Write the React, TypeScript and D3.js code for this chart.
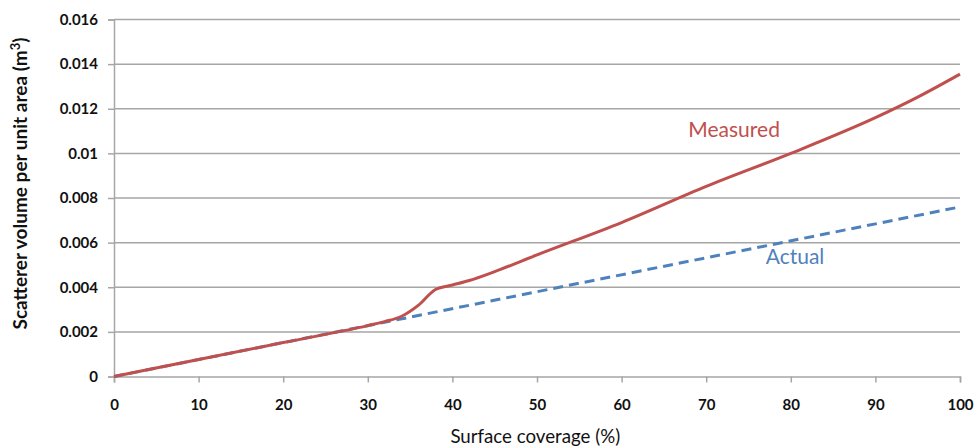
import { useRef, useEffect } from 'react';
import * as d3 from 'd3';

const W = 975;
const H = 448;
const margin = { left: 114, right: 15, top: 19.5, bottom: 71.5 };

const xTicks = [0, 10, 20, 30, 40, 50, 60, 70, 80, 90, 100];
const yTicks = [0, 0.002, 0.004, 0.006, 0.008, 0.01, 0.012, 0.014, 0.016];
const yTickLabels = ['0', '0.002', '0.004', '0.006', '0.008', '0.01', '0.012', '0.014', '0.016'];

// measured curve (surface coverage %, volume)
const measuredX = [0, 10, 20, 30, 32, 34, 36, 38, 40, 42, 45, 50, 60, 70, 80, 90, 95, 100];
const measuredY = [0, 0.00076, 0.00152, 0.00228, 0.00246, 0.0027, 0.0032, 0.0039, 0.0041, 0.0043, 0.0047, 0.00545, 0.0069, 0.00852, 0.01, 0.0116, 0.01252, 0.01355];

// actual (straight line)
const actualX = [0, 100];
const actualY = [0, 0.0076];

const RED = '#c0504d';
const BLUE = '#4f81bd';
const FONT = 'Lato, "Open Sans", sans-serif';

function App() {
  const svgRef = useRef<SVGSVGElement>(null);

  useEffect(() => {
    const svg = d3.select(svgRef.current);
    svg.selectAll('*').remove();

    const x = d3.scaleLinear().domain([0, 100]).range([margin.left, W - margin.right]);
    const y = d3.scaleLinear().domain([0, 0.016]).range([H - margin.bottom, margin.top]);

    // horizontal gridlines
    svg.append('g')
      .selectAll('line')
      .data(yTicks.slice(1))
      .join('line')
      .attr('x1', x(0))
      .attr('x2', x(100))
      .attr('y1', d => y(d))
      .attr('y2', d => y(d))
      .attr('stroke', '#a6a6a6')
      .attr('stroke-width', 1.5);

    // y axis
    const yAxis = svg.append('g')
      .attr('transform', `translate(${x(0)},0)`)
      .call(d3.axisLeft(y).tickValues(yTicks).tickSize(6).tickPadding(10).tickFormat((_, i) => yTickLabels[i]));
    yAxis.select('.domain').attr('stroke', '#a6a6a6').attr('stroke-width', 1.5);
    yAxis.selectAll('.tick line').attr('stroke', '#a6a6a6').attr('stroke-width', 1.5);
    yAxis.selectAll('.tick text')
      .attr('font-family', FONT)
      .attr('font-weight', 'bold')
      .attr('font-size', 15)
      .attr('fill', '#111');

    // x axis
    const xAxis = svg.append('g')
      .attr('transform', `translate(0,${y(0)})`)
      .call(d3.axisBottom(x).tickValues(xTicks).tickSize(6).tickPadding(17).tickFormat(d3.format('d')));
    xAxis.select('.domain').attr('stroke', '#a6a6a6').attr('stroke-width', 1.5);
    xAxis.selectAll('.tick line').attr('stroke', '#a6a6a6').attr('stroke-width', 1.5);
    xAxis.selectAll('.tick text')
      .attr('font-family', FONT)
      .attr('font-weight', 'bold')
      .attr('font-size', 15)
      .attr('fill', '#111');

    // actual line
    const actualLine = d3.line<number>()
      .x((_, i) => x(actualX[i]))
      .y(d => y(d));
    svg.append('path')
      .datum(actualY)
      .attr('d', actualLine)
      .attr('fill', 'none')
      .attr('stroke', BLUE)
      .attr('stroke-width', 3)
      .attr('stroke-dasharray', '10,6');

    // measured line
    const measuredLine = d3.line<number>()
      .x((_, i) => x(measuredX[i]))
      .y(d => y(d))
      .curve(d3.curveMonotoneX);
    svg.append('path')
      .datum(measuredY)
      .attr('d', measuredLine)
      .attr('fill', 'none')
      .attr('stroke', RED)
      .attr('stroke-width', 3);

    // series labels
    svg.append('text')
      .attr('x', x(73.3))
      .attr('y', y(0.01072))
      .attr('text-anchor', 'middle')
      .attr('font-family', FONT)
      .attr('font-size', 21)
      .attr('fill', RED)
      .text('Measured');

    svg.append('text')
      .attr('x', x(80.5))
      .attr('y', y(0.00504))
      .attr('text-anchor', 'middle')
      .attr('font-family', FONT)
      .attr('font-size', 21)
      .attr('fill', BLUE)
      .text('Actual');

    // axis titles
    svg.append('text')
      .attr('x', x(49.8))
      .attr('y', 443)
      .attr('text-anchor', 'middle')
      .attr('font-family', FONT)
      .attr('font-size', 18.7)
      .attr('fill', '#111')
      .text('Surface coverage (%)');

    const yt = svg.append('text')
      .attr('transform', `translate(27,183.5) rotate(-90)`)
      .attr('text-anchor', 'middle')
      .attr('font-family', FONT)
      .attr('font-weight', 'bold')
      .attr('font-size', 19)
      .attr('fill', '#111');
    yt.append('tspan').text('Scatterer volume per unit area (m');
    yt.append('tspan').attr('dy', -7).attr('font-size', 13).text('3');
    yt.append('tspan').attr('dy', 7).text(')');
  }, []);

  return (
    <div style={{ position: 'absolute', left: 0, top: 0 }}>
      <svg ref={svgRef} width={W} height={H} style={{ display: 'block', background: '#fff' }} />
    </div>
  );
}

export default App;
